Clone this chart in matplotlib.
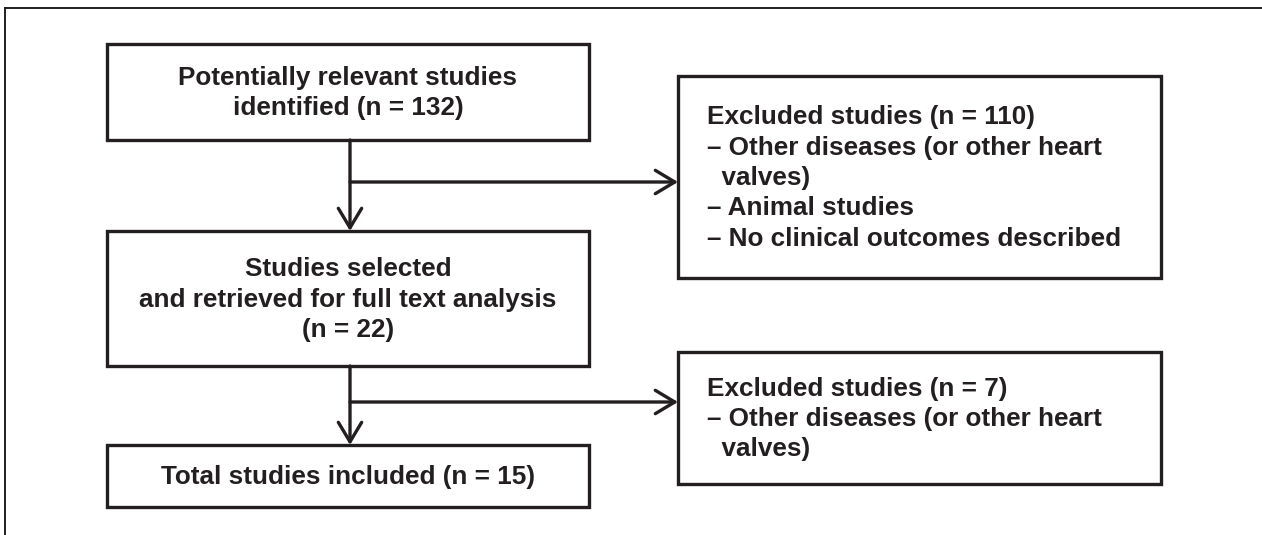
import matplotlib.pyplot as plt
from matplotlib.patches import Rectangle

# Counts in the flow diagram
n_identified = 132
n_excluded_first = 110
n_selected = 22
n_excluded_second = 7
n_included = 15

# Exclusion reasons
reasons_first = ["Other diseases (or other heart\n  valves)", "Animal studies",
                 "No clinical outcomes described"]
reasons_second = ["Other diseases (or other heart\n  valves)"]

main_texts = [
    "Potentially relevant studies\nidentified (n = %d)" % n_identified,
    "Studies selected\nand retrieved for full text analysis\n(n = %d)" % n_selected,
    "Total studies included (n = %d)" % n_included,
]
side_texts = [
    "Excluded studies (n = %d)\n" % n_excluded_first + "\n".join("– " + r for r in reasons_first),
    "Excluded studies (n = %d)\n" % n_excluded_second + "\n".join("– " + r for r in reasons_second),
]

ink = "#231f20"
plt.rcParams["font.family"] = ["Liberation Sans", "DejaVu Sans"]

fig = plt.figure(figsize=(12.62, 5.35), dpi=100)
ax = fig.add_axes([0, 0, 1, 1])
ax.set_xlim(0, 1262)
ax.set_ylim(535, 0)
ax.axis("off")

# outer frame (top and left only)
ax.plot([5, 1262], [8, 8], color=ink, lw=1.4)
ax.plot([5, 5], [8, 535], color=ink, lw=1.4)

# layout: (x0, y0, x1, y1)
main_boxes = [(107, 44, 589, 140), (107, 231, 589, 366), (107, 445, 589, 507)]
side_boxes = [(678, 76, 1161, 278), (678, 352, 1161, 484)]
branch_y = [182, 402]


def draw_box(b):
    x0, y0, x1, y1 = b
    ax.add_patch(Rectangle((x0, y0), x1 - x0, y1 - y0, fill=False,
                           edgecolor=ink, lw=2.4))


for b, t in zip(main_boxes, main_texts):
    draw_box(b)
    ax.text((b[0] + b[2]) / 2, (b[1] + b[3]) / 2 + 1, t, ha="center", va="center",
            fontsize=18.8, fontweight="bold", color=ink, linespacing=1.36)

for b, t in zip(side_boxes, side_texts):
    draw_box(b)
    ax.text(b[0] + 29, (b[1] + b[3]) / 2 + 1, t, ha="left", va="center",
            fontsize=18.8, fontweight="bold", color=ink, linespacing=1.33)

arrow = dict(arrowstyle="->,head_length=0.7,head_width=0.42", lw=2.4,
             color=ink, shrinkA=0, shrinkB=0, mutation_scale=20)
xc = 350
for i in range(2):
    top = main_boxes[i][3]
    bot = main_boxes[i + 1][1]
    yb = branch_y[i]
    ax.annotate("", xy=(xc, bot), xytext=(xc, top), arrowprops=arrow)
    ax.annotate("", xy=(side_boxes[i][0], yb), xytext=(xc, yb), arrowprops=arrow)

fig.savefig("out.png", dpi=100)
